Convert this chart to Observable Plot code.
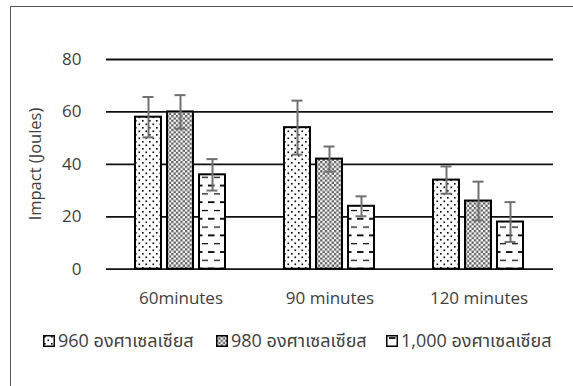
<!DOCTYPE html>
<html><head><meta charset="utf-8">
<script src="https://cdn.jsdelivr.net/npm/d3@7"></script>
<script src="https://cdn.jsdelivr.net/npm/@observablehq/plot@0.6"></script>
<style>
html,body{margin:0;padding:0;background:#fff;}
#wrap{position:relative;width:573px;height:386px;overflow:hidden;font-family:"Open Sans","Noto Sans Thai","Noto Sans",sans-serif;color:#404040;}
#frame{position:absolute;left:10px;top:6px;width:700px;height:500px;border-left:1.5px solid #595959;border-top:1.5px solid #595959;box-sizing:border-box;}
#chart{position:absolute;left:0;top:0;}
#ylabel{position:absolute;left:35px;top:163.5px;transform:translate(-50%,-50%) rotate(-90deg);font-size:16.5px;white-space:nowrap;line-height:1;}
#legend{position:absolute;left:0;top:328px;width:573px;height:26px;font-size:18px;white-space:nowrap;}
#legend .item{position:absolute;top:0;display:flex;align-items:center;height:26px;}
#legend svg{margin-right:3px;}
</style>
</head><body>
<div id="wrap"><div id="frame"></div><div id="chart"></div><div id="ylabel"></div><div id="legend"></div></div>
<script>
const categories = ["60minutes", "90 minutes", "120 minutes"];
const seriesNames = ["960 องศาเซลเซียส", "980 องศาเซลเซียส", "1,000 องศาเซลเซียส"];
const values960 = [58, 54, 34];
const values980 = [60, 42, 26];
const values1000 = [36, 24, 18];
const err960 = [7.7, 10.3, 5.2];
const err980 = [6.4, 4.8, 7.4];
const err1000 = [6, 3.8, 7.6];
const yTicks = [0, 20, 40, 60, 80];
const yLabel = "Impact (Joules)";
const patternIds = ["p960", "p980", "p1000"];

const allValues = [values960, values980, values1000];
const allErr = [err960, err980, err1000];
const rows = categories.flatMap((c, i) => seriesNames.map((s, j) => ({
  cat: c, series: s, value: allValues[j][i], err: allErr[j][i]
})));

const chart = Plot.plot({
  width: 573,
  height: 320,
  marginLeft: 105,
  marginRight: 20,
  marginTop: 59,
  marginBottom: 51.3,
  style: {fontFamily: "'Open Sans', sans-serif", fontSize: "17px", color: "#404040", background: "transparent"},
  fx: {domain: categories, padding: 0},
  x: {domain: seriesNames, paddingInner: 0.18, paddingOuter: 0.85, axis: null},
  y: {domain: [0, 80]},
  color: {domain: seriesNames, range: patternIds.map(id => `url(#${id})`)},
  marks: [
    Plot.ruleY(yTicks, {stroke: "#111", strokeWidth: 1.8}),
    Plot.barY(rows, {fx: "cat", x: "series", y: "value", fill: "series", stroke: "#000", strokeWidth: 2}),
    Plot.ruleX(rows, {fx: "cat", x: "series", y1: d => d.value - d.err, y2: d => d.value + d.err, stroke: "#707070", strokeWidth: 2}),
    Plot.tickY(rows, {fx: "cat", x: "series", y: d => d.value - d.err, stroke: "#707070", strokeWidth: 2, insetLeft: 7.5, insetRight: 7.5}),
    Plot.tickY(rows, {fx: "cat", x: "series", y: d => d.value + d.err, stroke: "#707070", strokeWidth: 2, insetLeft: 7.5, insetRight: 7.5}),
    Plot.axisY({ticks: yTicks, tickSize: 0, tickPadding: 25, label: null, fontSize: 17}),
    Plot.axisFx({anchor: "bottom", tickSize: 0, tickPadding: 23, label: null, fontSize: 17})
  ]
});

const NS = "http://www.w3.org/2000/svg";
function el(name, attrs, parent) {
  const e = document.createElementNS(NS, name);
  for (const k in attrs) e.setAttribute(k, attrs[k]);
  if (parent) parent.appendChild(e);
  return e;
}
const defs = el("defs", {});
let p = el("pattern", {id: "p960", patternUnits: "userSpaceOnUse", width: 7, height: 7}, defs);
el("rect", {width: 7, height: 7, fill: "#fff"}, p);
el("rect", {x: 1, y: 1, width: 1.6, height: 1.6, fill: "#000"}, p);
el("rect", {x: 4.5, y: 4.5, width: 1.6, height: 1.6, fill: "#000"}, p);
p = el("pattern", {id: "p980", patternUnits: "userSpaceOnUse", width: 4.6, height: 4.6}, defs);
el("rect", {width: 4.6, height: 4.6, fill: "#fff"}, p);
el("rect", {x: 0, y: 0, width: 2.3, height: 2.3, fill: "#5f5f5f"}, p);
el("rect", {x: 2.3, y: 2.3, width: 2.3, height: 2.3, fill: "#5f5f5f"}, p);
p = el("pattern", {id: "p1000", patternUnits: "userSpaceOnUse", width: 12, height: 16.6}, defs);
el("rect", {width: 12, height: 16.6, fill: "#fff"}, p);
el("line", {x1: 3, x2: 9.5, y1: 3, y2: 3, stroke: "#000", "stroke-width": 1.8}, p);
el("line", {x1: 9, x2: 12, y1: 11.3, y2: 11.3, stroke: "#000", "stroke-width": 1.2}, p);
el("line", {x1: 0, x2: 3, y1: 11.3, y2: 11.3, stroke: "#000", "stroke-width": 1.2}, p);
chart.insertBefore(defs, chart.firstChild);
document.getElementById("chart").appendChild(chart);

document.getElementById("ylabel").textContent = yLabel;

const legendLeft = [43, 216, 386];
const legend = document.getElementById("legend");
seriesNames.forEach((s, j) => {
  const item = document.createElement("div");
  item.className = "item";
  item.style.left = legendLeft[j] + "px";
  const sw = el("svg", {width: 12, height: 12});
  el("rect", {x: 0.75, y: 0.75, width: 10.5, height: 10.5, fill: `url(#${patternIds[j]})`, stroke: "#000", "stroke-width": 1.5}, sw);
  item.appendChild(sw);
  const t = document.createElement("span");
  t.textContent = s;
  item.appendChild(t);
  legend.appendChild(item);
});
</script>
</body></html>
